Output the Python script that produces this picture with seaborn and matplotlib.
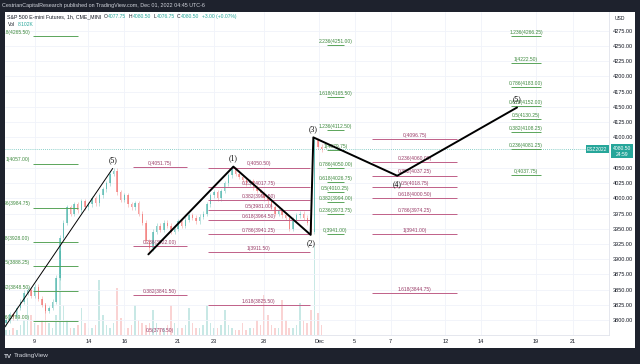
import numpy as np
import pandas as pd
import seaborn as sns
import matplotlib.pyplot as plt
from matplotlib import transforms
from matplotlib.patches import Rectangle
from matplotlib.ticker import StrMethodFormatter

# hourly-ish price path, one value every 0.2 session
t_start, t_step = -1.6, 0.2
closes = [3800, 3810, 3805, 3820, 3830, 3845, 3850, 3840, 3855, 3835,
          3825, 3815, 3820, 3830, 3870, 3935, 3960, 3985, 3975, 3990,
          3980, 3995, 3985, 3990, 4000, 3992, 4005, 4015, 4025, 4040,
          4045, 4010, 3998, 4005, 3990, 3985, 3992, 3975, 3960, 3930,
          3918, 3945, 3955, 3948, 3960, 3955, 3945, 3950, 3962, 3955,
          3965, 3972, 3968, 3962, 3970, 3975, 3990, 4005, 4010, 4000,
          4012, 4025, 4038, 4048, 4040, 4035, 4030, 4025, 4028, 4018,
          4012, 4008, 4000, 3995, 3985, 3975, 3980, 3972, 3968, 3950,
          3965, 3972, 3975, 3968, 3960, 3945, 4095, 4085, 4080.5]
volume = [2, 2, 3, 2, 4, 6, 15, 8, 5, 4,
          6, 13, 5, 3, 8, 34, 12, 6, 3, 3,
          4, 11, 5, 3, 3, 4, 22, 8, 4, 3,
          5, 19, 7, 3, 3, 4, 12, 6, 5, 4,
          5, 10, 5, 3, 3, 4, 12, 5, 3, 3,
          4, 11, 5, 3, 3, 4, 12, 5, 3, 3,
          4, 10, 4, 3, 2, 2, 5, 2, 3, 3,
          6, 4, 16, 8, 4, 3, 3, 14, 6, 3,
          3, 4, 13, 6, 5, 10, 36, 9, 4]

tick_days = [0, 3, 5, 8, 10, 12.8, 15.85, 17.85, 19.85, 22.9, 24.9, 27.95, 30]
tick_labels = ["9", "14", "16", "21", "23", "28", "Dec", "5", "7", "12", "14", "19", "21"]
price_ticks = [p for p in range(3800, 4276, 25) if p != 4075]  # 4075 sits under the price tag

# elliott wave lines
prev_x = [-1.8, 4.35]
prev_y = [3783, 4049]
wave_x = [6.34, 11.08, 15.39, 15.54, 20.22, 26.9]
wave_y = [3908, 4052, 3940, 4100, 4037, 4149]
wave_lbl = ["", "(1)", "(2)", "(3)", "(4)", "(5)"]
wave_up = [True, True, False, True, False, True]

# fib groups
fibA_lvl = ["1.618", "1", "0.786", "0.618", "0.5", "0.382", "0.236"]
fibA_px = [4265.50, 4057.00, 3984.75, 3928.00, 3888.25, 3848.50, 3799.00]
fibB_lvl = ["0", "0.236", "0.382", "0.5"]
fibB_px = [4051.75, 3922.00, 3841.50, 3776.50]
fibC_lvl = ["0", "0.236", "0.382", "0.5", "0.618", "0.786", "1", "1.618"]
fibC_px = [4050.50, 4017.75, 3997.50, 3981.00, 3964.50, 3941.25, 3911.50, 3825.50]
fibD_lvl = ["2.236", "1.618", "1.236", "1", "0.786", "0.618", "0.5", "0.382", "0.236", "0"]
fibD_px = [4251.00, 4165.50, 4112.50, 4079.75, 4050.00, 4026.75, 4010.25, 3994.00, 3973.75, 3941.00]
fibE_lvl = ["0", "0.236", "0.382", "0.5", "0.618", "0.786", "1", "1.618"]
fibE_px = [4096.75, 4060.00, 4037.25, 4018.75, 4000.50, 3974.25, 3941.00, 3844.75]
fibF_lvl = ["1.236", "1", "0.786", "0.618", "0.5", "0.382", "0.236", "0"]
fibF_px = [4266.25, 4222.50, 4183.00, 4152.00, 4130.25, 4108.25, 4081.25, 4037.75]

last_price = 4080.5
header_parts = [("O", "4077.75"), ("H", "4080.50"), ("L", "4076.75"), ("C", "4080.50"), ("", "+3.00 (+0.07%)")]

GREEN_T, GREEN_L = "#3f8a3f", "#5aa55a"
PINK_T, PINK_L = "#9a3d68", "#c06088"
UP, DN = "#26a69a", "#ef5350"
DARK = "#1e222d"

sns.set_theme(style="white")
plt.rcParams["font.family"] = ["Liberation Sans", "DejaVu Sans"]

fig = plt.figure(figsize=(6.4, 3.64), dpi=100, facecolor=DARK)
W, H = 640, 364
fig.add_artist(Rectangle((5 / W, 1 - 348 / H), 630 / W, 336 / H, transform=fig.transFigure,
                         facecolor="white", edgecolor="none", zorder=-1))

ax = fig.add_axes([5 / W, 1 - 335 / H, 604 / W, 323 / H])
ax2 = ax.twinx()
ax.set_zorder(ax2.get_zorder() + 1)
ax.patch.set_visible(False)

df = pd.DataFrame({"t": t_start + t_step * np.arange(len(closes)), "close": closes, "vol": volume})
df["open"] = df["close"].shift(1).fillna(3795)
df["up"] = df["close"] >= df["open"]
cols = np.where(df["up"], UP, DN)

# volume overlay
ax2.bar(df["t"], df["vol"], width=0.09, color=cols, alpha=0.25, linewidth=0)
ax2.set_ylim(0, 130)
ax2.set_axis_off()

# candles
ax.bar(df["t"], df["close"] - df["open"], bottom=df["open"], width=0.08,
       color=cols, alpha=0.55, linewidth=0, zorder=2)
ax.vlines(df["t"], df[["open", "close"]].min(axis=1) - 4, df[["open", "close"]].max(axis=1) + 4,
          colors=cols, lw=0.4, alpha=0.55, zorder=2)

ax.set_xlim(-1.656, 32.03)
ax.set_ylim(3775.7, 4305.7)

ax.axhline(last_price, color=UP, lw=0.6, ls=(0, (1, 1.5)), alpha=0.7, zorder=1)

# fib levels
def draw_fib(levels, prices, x0, x1, lcol, tcol, align="center"):
    ax.hlines(prices, x0, x1, color=lcol, lw=0.7, zorder=3)
    for lv, p in zip(levels, prices):
        label = f"{lv}({p:.2f})"
        if align == "left":
            tr = transforms.offset_copy(ax.transData, fig=fig, x=-2, y=0.8, units="points")
            ax.text(x0, p, label, transform=tr, ha="right", va="bottom", fontsize=3.6,
                    color=tcol, clip_on=True, zorder=4)
        else:
            tr = transforms.offset_copy(ax.transData, fig=fig, x=0, y=0.8, units="points")
            ax.text((x0 + x1) / 2, p, label, transform=tr, ha="center", va="bottom", fontsize=3.6,
                    color=tcol, clip_on=True, zorder=4)

draw_fib(fibA_lvl, fibA_px, -0.095, 2.415, GREEN_L, GREEN_T, align="left")
draw_fib(fibB_lvl, fibB_px, 5.48, 8.5, PINK_L, PINK_T)
draw_fib(fibC_lvl, fibC_px, 9.66, 15.35, PINK_L, PINK_T)
draw_fib(fibD_lvl, fibD_px, 16.3, 17.25, GREEN_L, GREEN_T)
draw_fib(fibE_lvl, fibE_px, 18.81, 23.55, PINK_L, PINK_T)
draw_fib(fibF_lvl, fibF_px, 26.56, 28.24, GREEN_L, GREEN_T)

# wave lines
sns.lineplot(x=prev_x, y=prev_y, sort=False, estimator=None, color="black", lw=0.7, ax=ax, zorder=5)
sns.lineplot(x=wave_x, y=wave_y, sort=False, estimator=None, color="black", lw=1.4, ax=ax, zorder=5)
ax.annotate("(5)", (prev_x[1], prev_y[1]), xytext=(0, 3), textcoords="offset points",
            ha="center", va="bottom", fontsize=5.5, family="Liberation Serif", color="black", zorder=6)
for x, y, lb, up in zip(wave_x, wave_y, wave_lbl, wave_up):
    if lb:
        ax.annotate(lb, (x, y), xytext=(0, 3 if up else -3), textcoords="offset points",
                    ha="center", va="bottom" if up else "top", fontsize=5.5,
                    family="Liberation Serif", color="black", zorder=6)

# axes styling
ax.set_xticks(tick_days)
ax.set_xticklabels(tick_labels)
ax.set_yticks(price_ticks)
ax.yaxis.tick_right()
ax.yaxis.set_major_formatter(StrMethodFormatter("{x:.2f}"))
ax.tick_params(axis="y", length=0, pad=3, labelsize=4, labelcolor="#131722")
ax.tick_params(axis="x", length=0, pad=3, labelsize=4, labelcolor="#131722")
ax.grid(True, color="#f0f3fa", lw=0.6)
for s in ["left", "top"]:
    ax.spines[s].set_visible(False)
for s in ["right", "bottom"]:
    ax.spines[s].set_color("#e0e3eb")
    ax.spines[s].set_linewidth(0.6)

# last price tags
bt = transforms.blended_transform_factory(fig.transFigure, ax.transData)
ax.text(607.5 / W, last_price, "ESZ2022", transform=bt, ha="right", va="center", fontsize=3.5,
        color="white", bbox=dict(boxstyle="square,pad=0.3", fc=UP, ec="none"), zorder=10)
ax.text(622 / W, last_price + 5, "4080.50\n24:59", transform=bt, ha="center", va="top", fontsize=3.6,
        color="white", linespacing=1.1, bbox=dict(boxstyle="square,pad=0.35", fc=UP, ec="none"),
        zorder=10, clip_on=False)

# header texts
def ftxt(x, y, s, color, size=3.8, **kw):
    return fig.text(x / W, 1 - y / H, s, color=color, fontsize=size, va="center", ha="left", **kw)

ftxt(2, 5.7, "CestrianCapitalResearch published on TradingView.com, Dec 01, 2022 04:45 UTC-6", "#d1d4dc", 3.9)
ftxt(7.3, 16.7, "S&P 500 E-mini Futures, 1h, CME_MINI", "#131722")
renderer = fig.canvas.get_renderer()
xpos = 104
for lab, val in header_parts:
    if lab:
        t = ftxt(xpos, 16.7, lab, "#131722", 3.6)
        xpos += t.get_window_extent(renderer).width + 0.3
    t = ftxt(xpos, 16.7, val, UP, 3.6)
    xpos += t.get_window_extent(renderer).width + 2.5
ftxt(8, 25, "Vol", "#131722", 3.6)
ftxt(18, 25, "8.102K", UP, 3.6)
ftxt(615, 19, "USD", "#131722", 3.6)
ftxt(4, 356, "TV", "#d1d4dc", 4.6, fontweight="bold")
ftxt(14, 356, "TradingView", "#d1d4dc", 4.6)

fig.savefig("out.png", dpi=100, facecolor=DARK)
